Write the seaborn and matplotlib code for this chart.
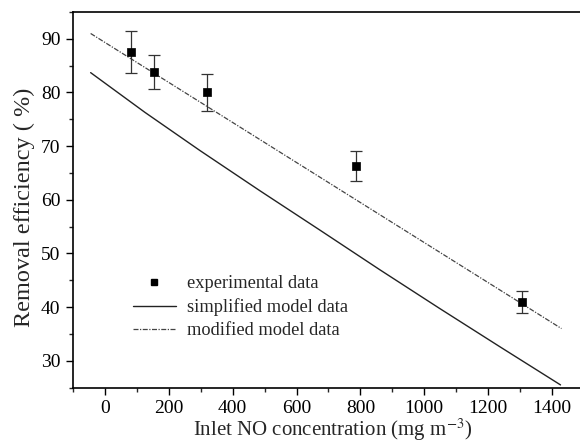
import matplotlib
matplotlib.use('Agg')
import matplotlib.pyplot as plt
import seaborn as sns
import pandas as pd
from matplotlib.lines import Line2D
from matplotlib.ticker import MultipleLocator

# experimental points
exp_conc = [80, 153, 318, 787, 1307]
exp_eff = [87.5, 83.8, 80.0, 66.3, 40.9]
exp_err = [3.9, 3.1, 3.4, 2.8, 2.05]

# simplified model curve
simp_conc = [-45, 125, 297, 485, 672, 860, 1047, 1240, 1427]
simp_eff = [83.7, 76.3, 69.2, 61.7, 54.4, 47.0, 39.8, 32.5, 25.5]

# modified model line
mod_conc = [-45, 1430]
mod_eff = [91.0, 36.0]

sns.set_style('ticks')
plt.rcParams['font.family'] = ['Liberation Serif', 'DejaVu Serif']
plt.rcParams['mathtext.fontset'] = 'stix'

fig = plt.figure(figsize=(5.8, 4.45), dpi=100)
ax = fig.add_axes([0.1260, 0.1290, 0.8740, 0.8440])

simp = pd.DataFrame({'conc': simp_conc, 'eff': simp_eff})
mod = pd.DataFrame({'conc': mod_conc, 'eff': mod_eff})
exp = pd.DataFrame({'conc': exp_conc, 'eff': exp_eff})

sns.lineplot(data=simp, x='conc', y='eff', ax=ax, color='#222222',
             linewidth=1.0, sort=True)
sns.lineplot(data=mod, x='conc', y='eff', ax=ax, color='#444444',
             linewidth=0.9, linestyle=(0, (4, 1.2, 1, 1.2)))
ax.errorbar(exp_conc, exp_eff, yerr=exp_err, fmt='none', ecolor='#333333',
            elinewidth=0.9, capsize=4, capthick=0.9)
sns.scatterplot(data=exp, x='conc', y='eff', ax=ax, marker='s', s=40,
                color='black', edgecolor='black', zorder=5)

ax.set_xlim(-100, 1488)
ax.set_ylim(25, 95)
ax.xaxis.set_major_locator(MultipleLocator(200))
ax.xaxis.set_minor_locator(MultipleLocator(100))
ax.yaxis.set_major_locator(MultipleLocator(10))
ax.yaxis.set_minor_locator(MultipleLocator(5))
ax.set_yticks([30, 40, 50, 60, 70, 80, 90])
ax.tick_params(which='major', direction='out', length=5, width=1,
               labelsize=14, colors='black', pad=4)
ax.tick_params(which='minor', direction='out', length=3, width=1)

sns.despine(ax=ax, right=True, top=False)
for s in ['left', 'bottom', 'top']:
    ax.spines[s].set_linewidth(1.2)
    ax.spines[s].set_color('black')

ax.set_xlabel('Inlet NO concentration (mg m$^{-3}$)', fontsize=15)
ax.set_ylabel('Removal efficiency ( %)', fontsize=17.5)
ax.xaxis.set_label_coords(0.512, -0.078)
ax.yaxis.set_label_coords(-0.076, 0.48)

handles = [
    Line2D([], [], marker='s', color='black', linestyle='none', markersize=5),
    Line2D([], [], color='#222222', linewidth=1.0),
    Line2D([], [], color='#444444', linewidth=0.9,
           linestyle=(0, (4, 1.2, 1, 1.2))),
]
labels = ['experimental data', 'simplified model data', 'modified model data']
ax.legend(handles, labels, loc='center left', bbox_to_anchor=(0.118, 0.214),
          frameon=False, fontsize=13.2, handlelength=2.35, handletextpad=0.6,
          borderpad=0, borderaxespad=0, labelspacing=0.32)

fig.savefig('out.png', dpi=100)
